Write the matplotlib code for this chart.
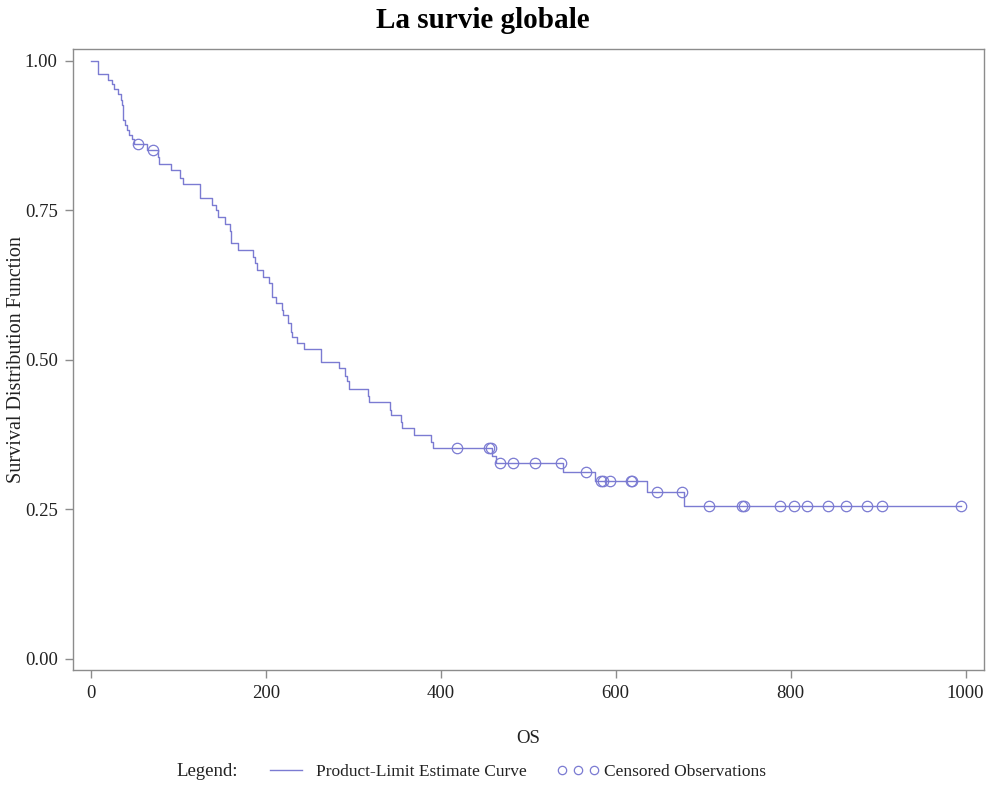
import matplotlib
matplotlib.use("Agg")
import matplotlib.pyplot as plt
import numpy as np
from matplotlib.lines import Line2D

plt.rcParams["font.family"] = ["Liberation Serif", "DejaVu Serif"]

# Kaplan-Meier estimate: event times and survival after each event
event_times = [8.3, 19.8, 24.4, 26.6, 31.0, 34.0, 35.1, 36.2, 36.9, 38.9, 40.8, 43.8, 46.5, 49.2,
               63.7, 77.0, 78.1, 91.1, 101.8, 104.9, 124.6, 138.9, 142.9, 145.6, 152.7, 158.9,
               160.1, 167.9, 185.2, 187.9, 189.5, 196.3, 204.1, 206.6, 211.0, 218.1, 219.9, 225.6,
               228.4, 229.5, 235.2, 243.9, 262.7, 283.9, 290.4, 292.4, 295.4, 316.8, 317.9, 341.9,
               342.7, 354.1, 355.3, 369.4, 388.8, 391.4, 458.5, 463.0, 540.1, 576.3, 636.1, 678.1]
survie = [0.978, 0.968, 0.962, 0.953, 0.945, 0.935, 0.926, 0.914, 0.902, 0.893, 0.885, 0.876, 0.869, 0.861,
          0.851, 0.840, 0.828, 0.817, 0.805, 0.794, 0.771, 0.759, 0.750, 0.739, 0.728, 0.715,
          0.695, 0.684, 0.673, 0.662, 0.650, 0.639, 0.628, 0.606, 0.595, 0.584, 0.575, 0.561,
          0.547, 0.539, 0.529, 0.518, 0.496, 0.486, 0.473, 0.464, 0.451, 0.439, 0.429, 0.416,
          0.408, 0.397, 0.386, 0.375, 0.363, 0.352, 0.340, 0.328, 0.313, 0.298, 0.279, 0.255]

# censored observations
censures = [54.1, 71.2, 418.2, 455.4, 457.0, 467.7, 482.9, 507.7, 537.1, 565.7, 583.2, 585.5,
            593.5, 617.2, 619.0, 647.6, 675.5, 707.0, 744.8, 746.7, 787.9, 804.2, 818.4, 843.1,
            863.4, 887.0, 904.9, 994.5]

couleur = "#7b7bd2"
gris = "#8c8c8c"
texte = "#222222"

t = np.array([0.0] + event_times + [max(censures)])
s = np.array([1.0] + survie + [survie[-1]])

idx = np.searchsorted(np.array(event_times), censures, side="right")
s_cens = np.array([1.0] + survie)[idx]

fig = plt.figure(figsize=(9.89, 7.85), dpi=100)
ax = fig.add_axes([0.0738, 0.1465, 0.9212, 0.7911])

ax.step(t, s, where="post", color=couleur, lw=1.0)
ax.plot(censures, s_cens, "o", mfc="none", mec=couleur, ms=7.5, mew=0.9)

ax.set_xlim(-20.6, 1021.2)
ax.set_ylim(-0.0184, 1.020)
ax.set_xticks([0, 200, 400, 600, 800, 1000])
ax.set_yticks([0.0, 0.25, 0.5, 0.75, 1.0])
ax.set_yticklabels(["0.00", "0.25", "0.50", "0.75", "1.00"])

for sp in ax.spines.values():
    sp.set_color(gris)
    sp.set_linewidth(1.0)
ax.tick_params(direction="out", length=6, width=1.0, color=gris, labelsize=13.5, labelcolor=texte, pad=5)

ax.set_xlabel("OS", fontsize=13.5, labelpad=20, color=texte)
fig.text(17 / 989, 0.5 * (0.1465 + 0.9376), "Survival Distribution Function", rotation=90,
         fontsize=14.5, color=texte, ha="center", va="center")
fig.text(483 / 989, 1 - 21 / 785, "La survie globale", fontsize=21, fontweight="bold",
         ha="center", va="center")

# legend under the plot
yl = 1 - 772 / 785
fig.text(176 / 989, yl, "Legend:", fontsize=13.5, color=texte, va="center")
fig.add_artist(Line2D([270 / 989, 302 / 989], [yl + 0.002, yl + 0.002], transform=fig.transFigure,
                      color=couleur, lw=1.0))
fig.text(316 / 989, yl, "Product-Limit Estimate Curve", fontsize=12.5, color=texte, va="center")
fig.add_artist(Line2D([562 / 989, 578 / 989, 594 / 989], [yl + 0.002] * 3, transform=fig.transFigure,
                      ls="none", marker="o", mfc="none", mec=couleur, ms=6, mew=0.9))
fig.text(604 / 989, yl, "Censored Observations", fontsize=12.5, color=texte, va="center")

fig.savefig("out.png", dpi=100)
